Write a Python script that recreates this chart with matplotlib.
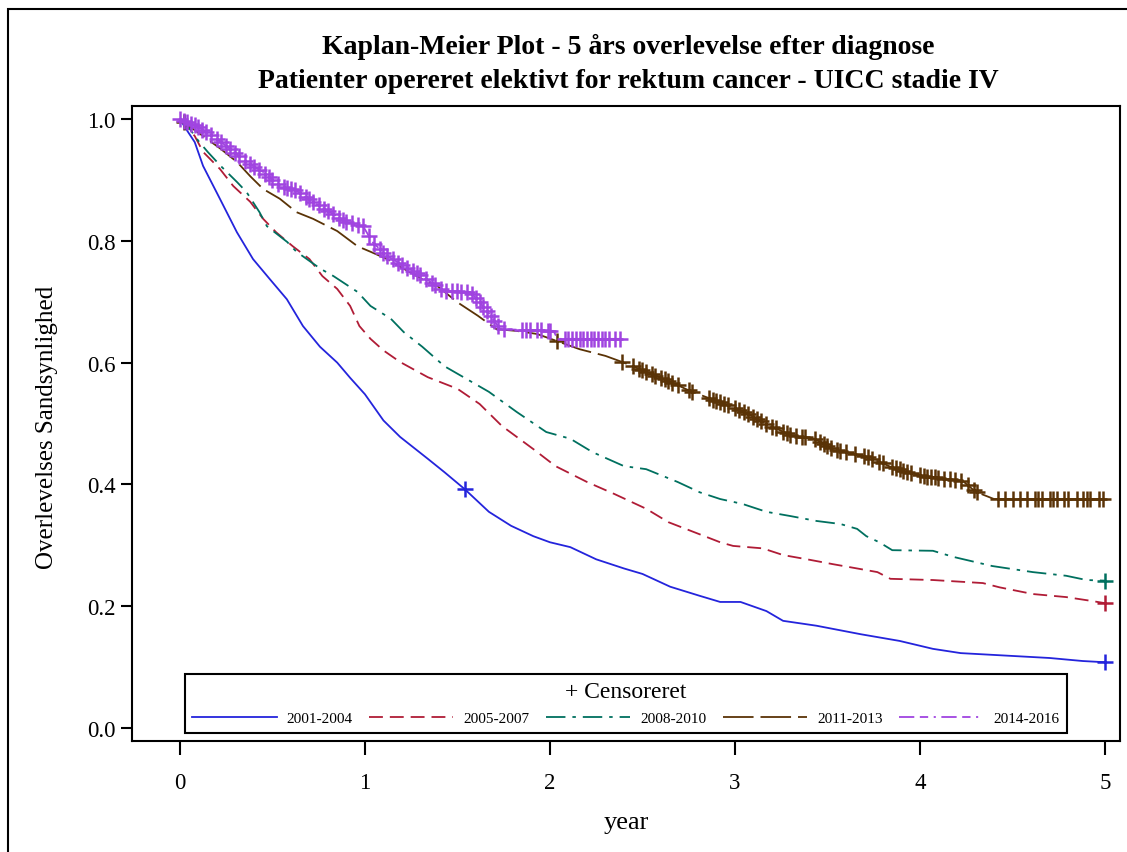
import numpy as np
import matplotlib
matplotlib.use('Agg')
import matplotlib.pyplot as plt
from matplotlib.lines import Line2D
from matplotlib.patches import Rectangle

plt.rcParams['font.family'] = ['Liberation Serif', 'DejaVu Serif']
plt.rcParams['lines.scale_dashes'] = False

# survival curves (time in years, survival probability)
t_0104 = [0.0, 0.03, 0.08, 0.125, 0.216, 0.308, 0.395, 0.486, 0.578, 0.665, 0.757, 0.85, 0.92, 1.0, 1.1, 1.19,
          1.34, 1.43, 1.54, 1.67, 1.79, 1.91, 2.0, 2.11, 2.25, 2.4, 2.5, 2.65, 2.81, 2.92, 3.03, 3.17, 3.26,
          3.44, 3.68, 3.89, 4.07, 4.22, 4.52, 4.70, 4.88, 5.0]
s_0104 = [1.0, 0.985, 0.962, 0.923, 0.869, 0.814, 0.770, 0.737, 0.704, 0.660, 0.626, 0.600, 0.575, 0.548, 0.505, 0.478,
          0.442, 0.420, 0.392, 0.355, 0.332, 0.315, 0.305, 0.297, 0.277, 0.262, 0.253, 0.232, 0.217, 0.207, 0.207, 0.192, 0.176,
          0.168, 0.154, 0.143, 0.130, 0.123, 0.118, 0.115, 0.110, 0.108]

t_0507 = [0.0, 0.08, 0.125, 0.216, 0.288, 0.38, 0.45, 0.52, 0.61, 0.70, 0.77, 0.85, 0.92, 0.97, 1.03, 1.10, 1.19,
          1.34, 1.50, 1.62, 1.74, 1.91, 2.03, 2.20, 2.35, 2.52, 2.64, 2.81, 2.92, 2.99, 3.15, 3.26, 3.39, 3.53,
          3.66, 3.77, 3.84, 4.07, 4.34, 4.43, 4.61, 4.79, 4.92, 5.0]
s_0507 = [1.0, 0.972, 0.946, 0.918, 0.890, 0.864, 0.836, 0.814, 0.791, 0.770, 0.742, 0.721, 0.693, 0.660, 0.639, 0.620, 0.601,
          0.576, 0.557, 0.532, 0.496, 0.458, 0.430, 0.404, 0.384, 0.360, 0.338, 0.318, 0.305, 0.299, 0.295, 0.284, 0.277, 0.269,
          0.262, 0.256, 0.245, 0.243, 0.238, 0.231, 0.220, 0.215, 0.209, 0.205]

t_0810 = [0.0, 0.05, 0.10, 0.15, 0.22, 0.31, 0.36, 0.43, 0.47, 0.58, 0.63, 0.76, 0.83, 0.96, 1.03, 1.14, 1.21,
          1.31, 1.43, 1.55, 1.67, 1.82, 1.98, 2.11, 2.23, 2.40, 2.52, 2.69, 2.81, 2.92, 3.04, 3.17, 3.30, 3.44,
          3.57, 3.66, 3.71, 3.78, 3.85, 4.07, 4.18, 4.39, 4.61, 4.79, 4.90, 5.0]
s_0810 = [1.0, 0.985, 0.964, 0.946, 0.923, 0.896, 0.880, 0.847, 0.824, 0.798, 0.782, 0.754, 0.742, 0.716, 0.693, 0.672, 0.650,
          0.626, 0.594, 0.573, 0.552, 0.519, 0.486, 0.475, 0.453, 0.430, 0.425, 0.404, 0.387, 0.376, 0.368, 0.355, 0.348, 0.340,
          0.335, 0.327, 0.315, 0.305, 0.292, 0.291, 0.281, 0.266, 0.256, 0.250, 0.243, 0.242]

t_1113 = [0.0, 0.05, 0.125, 0.22, 0.31, 0.38, 0.45, 0.54, 0.63, 0.72, 0.85, 0.96, 1.03, 1.12, 1.21, 1.31, 1.39,
          1.50, 1.61, 1.71, 1.82, 1.93, 2.05, 2.16, 2.30, 2.39, 2.52, 2.64, 2.76, 2.90, 3.05, 3.19, 3.31, 3.43,
          3.53, 3.72, 3.84, 4.01, 4.23, 4.30, 4.40, 5.0]
s_1113 = [1.0, 0.988, 0.972, 0.951, 0.929, 0.906, 0.885, 0.869, 0.847, 0.836, 0.816, 0.791, 0.782, 0.770, 0.754, 0.737, 0.726,
          0.699, 0.677, 0.655, 0.652, 0.647, 0.634, 0.622, 0.611, 0.601, 0.585, 0.570, 0.553, 0.537, 0.519, 0.496, 0.480, 0.475,
          0.458, 0.445, 0.429, 0.414, 0.406, 0.388, 0.376, 0.376]

t_1416 = [0.0, 0.09, 0.18, 0.27, 0.36, 0.45, 0.54, 0.63, 0.72, 0.81, 0.90, 0.99, 1.04, 1.12, 1.21, 1.31, 1.42,
          1.57, 1.62, 1.68, 1.73, 2.02, 2.04, 2.38]
s_1416 = [1.0, 0.988, 0.972, 0.951, 0.929, 0.913, 0.890, 0.882, 0.864, 0.847, 0.831, 0.824, 0.798, 0.775, 0.759, 0.742, 0.718,
          0.716, 0.699, 0.677, 0.655, 0.652, 0.639, 0.639]

# censoring times
c_0104 = [1.54, 5.0]
c_0507 = [5.0]
c_0810 = [5.0]
c_1113 = [0.02, 2.04, 2.39, 2.45, 2.48, 2.5, 2.52, 2.55, 2.57, 2.6, 2.62, 2.64, 2.66, 2.69, 2.75, 2.77, 2.86, 2.88,
          2.9, 2.92, 2.94, 2.96, 3.0, 3.02, 3.05, 3.07, 3.1, 3.12, 3.14, 3.17, 3.2, 3.22, 3.26, 3.28, 3.3, 3.33, 3.36,
          3.38, 3.43, 3.46, 3.48, 3.5, 3.52, 3.55, 3.57, 3.6, 3.65, 3.7, 3.72, 3.74, 3.78, 3.8, 3.85, 3.87, 3.89, 3.91,
          3.93, 3.95, 4.0, 4.02, 4.04, 4.06, 4.08, 4.1, 4.13, 4.16, 4.19, 4.22, 4.26, 4.29, 4.31, 4.42, 4.46, 4.5,
          4.54, 4.58, 4.62, 4.64, 4.66, 4.7, 4.72, 4.74, 4.78, 4.8, 4.85, 4.88, 4.9, 4.92, 4.97, 4.99]
c_1416 = [0.0, 0.02, 0.04, 0.06, 0.08, 0.1, 0.12, 0.14, 0.17, 0.2, 0.22, 0.25, 0.27, 0.3, 0.32, 0.35, 0.38, 0.4,
          0.43, 0.46, 0.48, 0.5, 0.53, 0.56, 0.58, 0.6, 0.62, 0.65, 0.68, 0.7, 0.72, 0.75, 0.78, 0.8, 0.83, 0.86,
          0.88, 0.9, 0.93, 0.96, 0.99, 1.02, 1.05, 1.08, 1.1, 1.12, 1.15, 1.18, 1.2, 1.23, 1.26, 1.28, 1.3, 1.33,
          1.36, 1.38, 1.41, 1.44, 1.47, 1.5, 1.52, 1.55, 1.58, 1.6, 1.62, 1.64, 1.66, 1.68, 1.7, 1.72, 1.75, 1.85,
          1.87, 1.89, 1.93, 1.95, 1.99, 2.0, 2.08, 2.1, 2.12, 2.14, 2.16, 2.18, 2.2, 2.22, 2.24, 2.26, 2.28, 2.3,
          2.32, 2.35, 2.38]

labels = ['2001-2004', '2005-2007', '2008-2010', '2011-2013', '2014-2016']
colors = ['#2424dc', '#b01c36', '#00705f', '#5a3306', '#a044e0']
styles = ['-', (0, (10, 5)), (0, (14, 5, 2.5, 5)), (0, (22, 5)), (0, (11, 4, 6, 4, 1.5, 4))]

curves = [(t_0104, s_0104, c_0104), (t_0507, s_0507, c_0507), (t_0810, s_0810, c_0810),
          (t_1113, s_1113, c_1113), (t_1416, s_1416, c_1416)]

fig = plt.figure(figsize=(11.27, 8.53), dpi=100)
ax = fig.add_axes([132 / 1127, 1 - 742 / 853, 988 / 1127, 635 / 853])

for (t, s, c), col, ls in zip(curves, colors, styles):
    ax.plot(t, s, color=col, lw=1.3, ls=ls)
    cy = np.interp(c, t, s)
    ax.plot(c, cy, ls='none', marker='+', color=col, ms=12, mew=1.8)

ax.set_xlim(-0.259, 5.081)
ax.set_ylim(-0.0213, 1.0213)
ax.set_xticks([0, 1, 2, 3, 4, 5])
ax.set_yticks([0.0, 0.2, 0.4, 0.6, 0.8, 1.0])
ax.set_yticklabels(['0.0', '0.2', '0.4', '0.6', '0.8', '1.0'])
ax.tick_params(axis='x', labelsize=16.5, length=10, width=1.5, pad=12)
ax.tick_params(axis='y', labelsize=16.5, length=8, width=1.5, pad=4)
for sp in ax.spines.values():
    sp.set_linewidth(1.5)

fig.text(628 / 1127, 1 - 47 / 853, 'Kaplan-Meier Plot - 5 års overlevelse efter diagnose',
         ha='center', va='center', fontsize=20, fontweight='bold')
fig.text(628 / 1127, 1 - 82 / 853, 'Patienter opereret elektivt for rektum cancer - UICC stadie IV',
         ha='center', va='center', fontsize=20, fontweight='bold')
fig.text(47 / 1127, 1 - 427 / 853, 'Overlevelses Sandsynlighed', rotation=90,
         ha='center', va='center', fontsize=18)
fig.text(626 / 1127, 1 - 823 / 853, 'year', ha='center', va='center', fontsize=19)

# outer frame
fig.patches.append(Rectangle((8 / 1127, -0.2), 1.2, 1.2 - 10 / 853, transform=fig.transFigure,
                             fill=False, edgecolor='black', lw=1.5))

handles = [Line2D([], [], color=col, lw=1.3, ls=ls) for col, ls in zip(colors, styles)]
leg = ax.legend(handles, labels, ncol=5, loc='lower center', bbox_to_anchor=(0.5, 0.0126),
                fontsize=11, title='+ Censoreret', title_fontsize=17, frameon=True, fancybox=False,
                edgecolor='black', handlelength=5.5, handletextpad=0.65, columnspacing=1.1,
                borderpad=0.5, labelspacing=0.6, borderaxespad=0)
leg.get_frame().set_linewidth(1.5)
leg.get_frame().set_alpha(None)

fig.savefig('out.png', dpi=100)
